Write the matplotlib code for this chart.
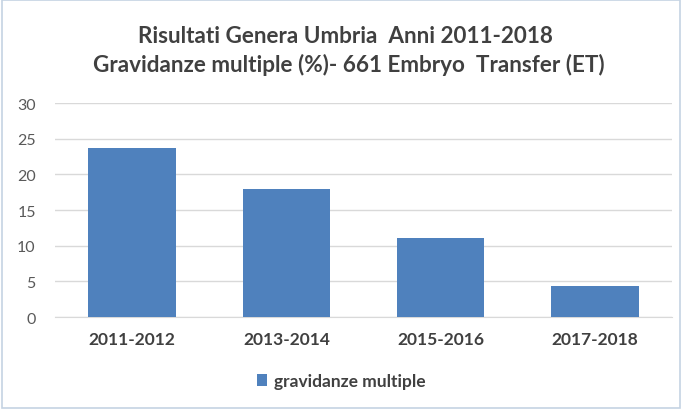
#Importing Modules
import matplotlib.pyplot as plt
import matplotlib.patches as patches

#Data Values
periods = ["2011-2012", "2013-2014", "2015-2016", "2017-2018"]
multiple_pct = [23.7, 17.9, 11.1, 4.4]
series_name = "gravidanze multiple"

#Graph Styling/Plotting
plt.rcParams['font.family'] = ['Lato', 'DejaVu Sans']
fig = plt.figure(figsize=(6.82, 4.10), dpi=100)
ax = fig.add_axes([0.081, 0.224, 0.904, 0.522])

bars = ax.bar(periods, multiple_pct, width=0.57, color='#4F81BD', label=series_name, zorder=3)

ax.set_ylim(0, 30)
ax.set_yticks(range(0, 31, 5))
ax.set_xlim(-0.5, 3.5)
ax.grid(axis='y', color='#D9D9D9', linewidth=1, zorder=0)
for s in ['top', 'right', 'left']:
    ax.spines[s].set_visible(False)
ax.spines['bottom'].set_color('#D9D9D9')
ax.tick_params(axis='y', length=0, labelsize=11.5, labelcolor='#595959', pad=14)
ax.tick_params(axis='x', length=0, labelsize=12.5, labelcolor='#404040', pad=10)
for lbl in ax.get_xticklabels():
    lbl.set_fontweight('bold')

fig.text(0.507, 0.911, "Risultati Genera Umbria  Anni 2011-2018", ha='center', va='center',
         fontsize=16.2, fontweight='bold', color='#404040')
fig.text(0.512, 0.842, "Gravidanze multiple (%)- 661 Embryo  Transfer (ET)", ha='center', va='center',
         fontsize=16.2, fontweight='bold', color='#404040')

leg = fig.legend(handles=[bars], loc='center', bbox_to_anchor=(0.5, 0.068), frameon=False,
                 fontsize=12.5, handlelength=0.6, handleheight=0.6, handletextpad=0.4)
for t in leg.get_texts():
    t.set_color('#404040')
    t.set_fontweight('bold')

#Chart border
fig.patches.append(patches.Rectangle((0.003, 0.003), 0.994, 0.994, transform=fig.transFigure,
                                     fill=False, edgecolor='#C5D3E3', linewidth=1.2))

#Save Graph
fig.savefig('out.png', dpi=100)
